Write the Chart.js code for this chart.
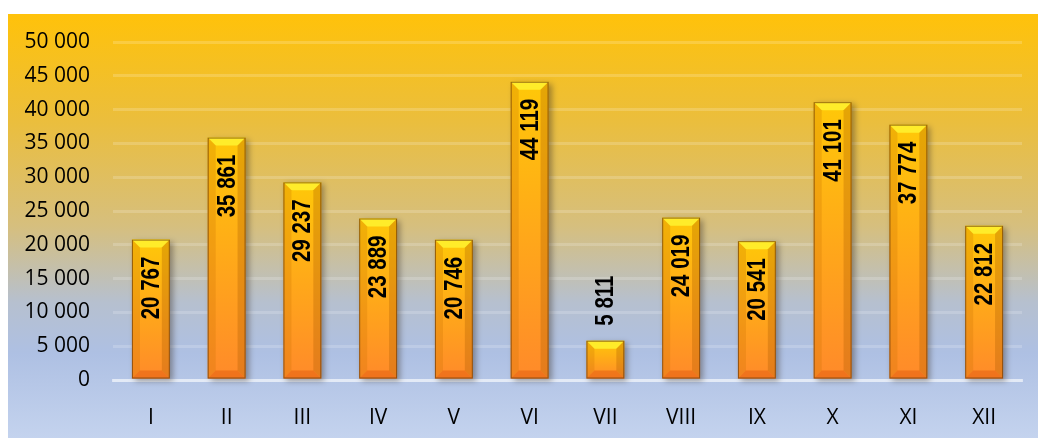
<!DOCTYPE html>
<html>
<head>
<meta charset="utf-8">
<script src="https://cdn.jsdelivr.net/npm/chart.js@4.4.1/dist/chart.umd.min.js"></script>
<style>
  html, body { margin: 0; padding: 0; background: #fff; }
  #wrap { width: 1038px; height: 438px; position: relative; }
</style>
</head>
<body>
<div id="wrap"><canvas id="salesChart"></canvas></div>
<script>
const months = ['I', 'II', 'III', 'IV', 'V', 'VI', 'VII', 'VIII', 'IX', 'X', 'XI', 'XII'];
const values = [20767, 35861, 29237, 23889, 20746, 44119, 5811, 24019, 20541, 41101, 37774, 22812];
const yMin = 0;
const yMax = 50000;
const yStep = 5000;

function fmt(v) {
    return String(v).replace(/\B(?=(\d{3})+(?!\d))/g, ' ');
}

// tło wykresu (gradient pomarańcz -> niebieski)
const bgPlugin = {
    id: 'bg',
    beforeDraw(chart) {
        const ctx = chart.ctx;
        const g = ctx.createLinearGradient(0, 14, 0, 438);
        g.addColorStop(0, '#ffc20a');
        g.addColorStop(0.25, '#ebbe3c');
        g.addColorStop(0.5, '#d6bf7e');
        g.addColorStop(0.68, '#b6c0cf');
        g.addColorStop(0.8, '#aec0e3');
        g.addColorStop(1, '#c4d3ee');
        ctx.save();
        ctx.fillStyle = g;
        ctx.fillRect(8, 14, chart.width - 8, chart.height - 14);
        ctx.restore();
    }
};

// słupki z fazowaniem + etykiety pionowe
const barPlugin = {
    id: 'bevelBars',
    afterDatasetsDraw(chart) {
        const ctx = chart.ctx;
        const meta = chart.getDatasetMeta(0);
        meta.data.forEach((el, i) => {
            const p = el.getProps(['x', 'y', 'base', 'width'], true);
            const l = p.x - p.width / 2, r = p.x + p.width / 2;
            const t = p.y, b = p.base;
            const bv = Math.min(8, (b - t) / 2);
            ctx.save();
            // cień
            ctx.shadowColor = 'rgba(60,50,40,0.45)';
            ctx.shadowBlur = 6;
            ctx.shadowOffsetX = 3;
            ctx.shadowOffsetY = 2;
            const g = ctx.createLinearGradient(0, t, 0, b);
            g.addColorStop(0, '#ffc808');
            g.addColorStop(1, '#ff8a2a');
            ctx.fillStyle = g;
            ctx.fillRect(l, t, r - l, b - t);
            ctx.restore();

            ctx.save();
            // górna ścianka
            ctx.beginPath();
            ctx.moveTo(l, t); ctx.lineTo(r, t); ctx.lineTo(r - bv, t + bv); ctx.lineTo(l + bv, t + bv); ctx.closePath();
            ctx.fillStyle = '#ffec2a';
            ctx.fill();
            // lewa ścianka
            ctx.beginPath();
            ctx.moveTo(l, t); ctx.lineTo(l + bv, t + bv); ctx.lineTo(l + bv, b - bv); ctx.lineTo(l, b); ctx.closePath();
            ctx.fillStyle = 'rgba(200,110,0,0.25)';
            ctx.fill();
            // prawa ścianka
            ctx.beginPath();
            ctx.moveTo(r, t); ctx.lineTo(r - bv, t + bv); ctx.lineTo(r - bv, b - bv); ctx.lineTo(r, b); ctx.closePath();
            ctx.fillStyle = 'rgba(170,90,0,0.3)';
            ctx.fill();
            // dolna ścianka
            ctx.beginPath();
            ctx.moveTo(l, b); ctx.lineTo(r, b); ctx.lineTo(r - bv, b - bv); ctx.lineTo(l + bv, b - bv); ctx.closePath();
            ctx.fillStyle = 'rgba(230,100,20,0.6)';
            ctx.fill();
            ctx.strokeStyle = 'rgba(110,60,10,0.7)';
            ctx.lineWidth = 1;
            ctx.strokeRect(l + 0.5, t + 0.5, r - l - 1, b - t - 1);
            ctx.restore();

            // etykieta (zwężona czcionka)
            const txt = fmt(values[i]);
            const sx = 0.82;
            ctx.save();
            ctx.font = 'bold 25px "Liberation Sans", Arial, sans-serif';
            const w = ctx.measureText(txt).width * sx;
            ctx.fillStyle = '#000';
            ctx.textBaseline = 'middle';
            if (b - t > w + 34) {
                ctx.translate(p.x, t + 17);
                ctx.rotate(-Math.PI / 2);
                ctx.scale(sx, 1);
                ctx.textAlign = 'right';
            } else {
                ctx.translate(p.x, t - 15);
                ctx.rotate(-Math.PI / 2);
                ctx.scale(sx, 1);
                ctx.textAlign = 'left';
            }
            ctx.fillText(txt, 0, 1);
            ctx.restore();
        });
    }
};

const ctx = document.getElementById('salesChart').getContext('2d');
const salesChart = new Chart(ctx, {
    type: 'bar',
    data: {
        labels: months,
        datasets: [{
            data: values,
            backgroundColor: 'rgba(0,0,0,0)',
            borderWidth: 0,
            barPercentage: 0.5,
            categoryPercentage: 1.0
        }]
    },
    plugins: [bgPlugin, barPlugin],
    options: {
        responsive: true,
        maintainAspectRatio: false,
        animation: false,
        layout: {
            padding: { left: 8, top: 42, right: 16, bottom: 0 }
        },
        plugins: {
            legend: { display: false },
            tooltip: { enabled: false }
        },
        scales: {
            x: {
                grid: { display: false },
                border: { display: true, color: 'rgba(255,255,255,0.55)', width: 3 },
                ticks: {
                    color: '#000',
                    padding: 17,
                    font: { family: 'Open Sans', size: 21 }
                },
                afterFit: function (s) { s.height = 58; }
            },
            y: {
                min: yMin,
                max: yMax,
                grid: {
                    color: 'rgba(255,255,255,0.18)',
                    lineWidth: 3,
                    drawTicks: false
                },
                border: { display: false },
                ticks: {
                    stepSize: yStep,
                    color: '#000',
                    padding: 23,
                    font: { family: 'Open Sans', size: 21 },
                    callback: function (value) {
                        return fmt(value);
                    }
                },
                afterFit: function (s) { s.width = 105; }
            }
        }
    }
});
</script>
</body>
</html>
